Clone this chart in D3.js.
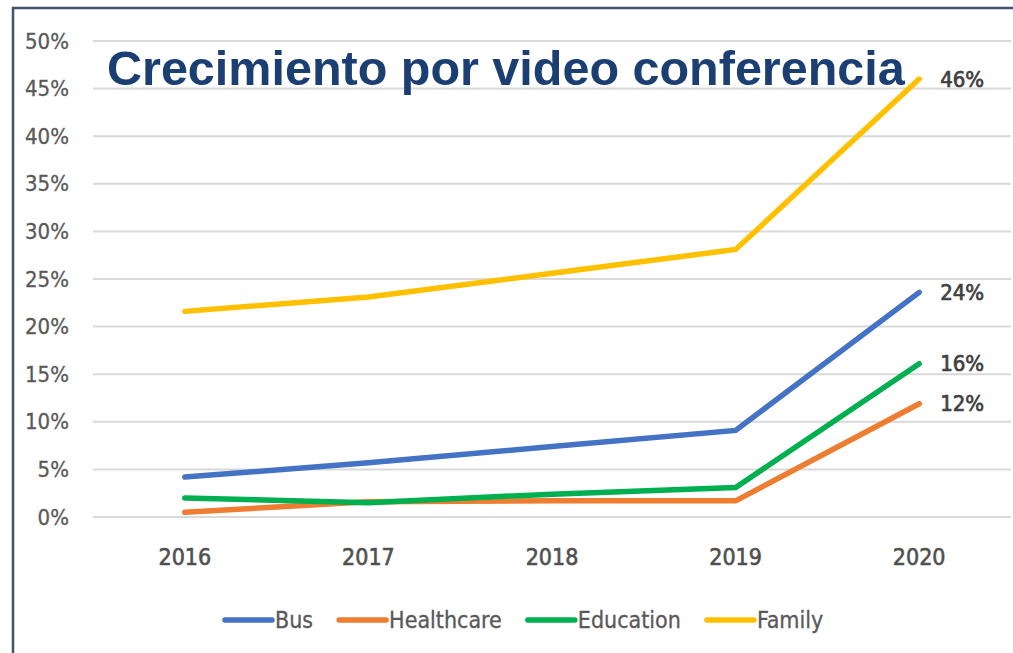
<!DOCTYPE html>
<html>
<head>
<meta charset="utf-8">
<script src="https://cdn.jsdelivr.net/npm/d3@7"></script>
<style>
  html, body { margin: 0; padding: 0; background: #fff; }
  svg { display: block; }
</style>
</head>
<body>
<svg id="chart"></svg>
<script>
const years = ["2016", "2017", "2018", "2019", "2020"];
const yTicks = [0, 0.05, 0.10, 0.15, 0.20, 0.25, 0.30, 0.35, 0.40, 0.45, 0.50];

const bus        = [0.042, 0.057, 0.074, 0.091, 0.236];
const healthcare = [0.005, 0.016, 0.017, 0.017, 0.119];
const education  = [0.020, 0.015, 0.024, 0.031, 0.161];
const family     = [0.216, 0.231, 0.256, 0.281, 0.460];

const seriesNames  = ["Bus", "Healthcare", "Education", "Family"];
const seriesColors = ["#4472c4", "#ed7d31", "#00b050", "#ffc000"];
const endLabels    = ["24%", "12%", "16%", "46%"];

const W = 1013, H = 653;
const FONT = "'Liberation Sans Narrow', 'DejaVu Sans Condensed', sans-serif";

const svg = d3.select("#chart").attr("width", W).attr("height", H);

const series = [bus, healthcare, education, family].map((vals, i) => ({
  name: seriesNames[i],
  color: seriesColors[i],
  label: endLabels[i],
  values: vals.map((v, j) => ({ year: years[j], v }))
}));

const x = d3.scaleBand().domain(years).range([93, 1011]);
const y = d3.scaleLinear().domain([0, 0.5]).range([517, 41]);
const cx = d => x(d) + x.bandwidth() / 2;

// gridlines
svg.append("g")
  .selectAll("line")
  .data(yTicks)
  .join("line")
  .attr("x1", 93).attr("x2", 1011)
  .attr("y1", d => y(d)).attr("y2", d => y(d))
  .attr("stroke", "#d9d9d9")
  .attr("stroke-width", 2);

// y axis labels
const yAxis = svg.append("g")
  .attr("transform", "translate(69,0)")
  .call(d3.axisLeft(y).tickValues(yTicks).tickFormat(d3.format(".0%")).tickSize(0).tickPadding(0));
yAxis.select(".domain").remove();
yAxis.selectAll("text")
  .style("font-family", FONT)
  .style("font-size", "22px")
  .attr("fill", "#595959")
  .attr("stroke", "#595959")
  .attr("stroke-width", 0.3);

// x axis labels
const xAxis = svg.append("g")
  .attr("transform", "translate(0,549)")
  .call(d3.axisBottom(x).tickSize(0).tickPadding(0));
xAxis.select(".domain").remove();
xAxis.selectAll("text")
  .style("font-family", FONT)
  .style("font-size", "23px")
  .attr("fill", "#505050")
  .attr("stroke", "#505050")
  .attr("stroke-width", 0.6);

// lines
const line = d3.line()
  .x(d => cx(d.year))
  .y(d => y(d.v));

svg.append("g")
  .selectAll("path")
  .data(series)
  .join("path")
  .attr("d", d => line(d.values))
  .attr("fill", "none")
  .attr("stroke", d => d.color)
  .attr("stroke-width", 5.5)
  .attr("stroke-linecap", "round");

// end labels
svg.append("g")
  .selectAll("text")
  .data(series)
  .join("text")
  .attr("x", d => cx(years[years.length - 1]) + 21)
  .attr("y", d => y(d.values[d.values.length - 1].v))
  .attr("dy", "0.35em")
  .style("font-family", FONT)
  .style("font-size", "22px")
  .attr("fill", "#404040")
  .attr("stroke", "#404040")
  .attr("stroke-width", 0.7)
  .text(d => d.label);

// title
svg.append("text")
  .attr("x", 107)
  .attr("y", 85)
  .style("font-family", "'Liberation Sans', Arial, sans-serif")
  .style("font-size", "48.5px")
  .style("font-weight", "bold")
  .attr("fill", "#1c3f73")
  .text("Crecimiento por video conferencia");

// legend
const legend = svg.append("g").attr("transform", "translate(0,620)");
let lx = 225;
series.forEach(s => {
  legend.append("line")
    .attr("x1", lx).attr("x2", lx + 47)
    .attr("y1", 0).attr("y2", 0)
    .attr("stroke", s.color)
    .attr("stroke-width", 5.5)
    .attr("stroke-linecap", "round");
  const t = legend.append("text")
    .attr("x", lx + 50)
    .attr("y", 0)
    .attr("dy", "0.35em")
    .style("font-family", FONT)
    .style("font-size", "23px")
    .attr("fill", "#595959")
    .attr("stroke", "#595959")
    .attr("stroke-width", 0.3)
    .text(s.name);
  lx += 50 + t.node().getComputedTextLength() + 26;
});

// frame
svg.append("path")
  .attr("d", d3.line()([[13, H], [13, 8], [W, 8]]))
  .attr("fill", "none")
  .attr("stroke", "#44546a")
  .attr("stroke-width", 2.5);
</script>
</body>
</html>
